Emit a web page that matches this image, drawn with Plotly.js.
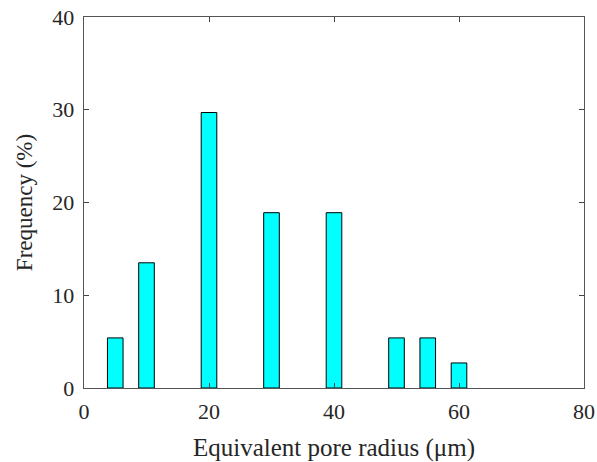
<!DOCTYPE html>
<html><head><meta charset="utf-8">
<script src="https://cdn.plot.ly/plotly-3.0.1.min.js"></script>
<style>body{margin:0;background:#fff}#c{width:597px;height:462px}</style>
</head><body><div id="c"></div>
<script>
const radius = [5, 10, 20, 30, 40, 50, 55, 60];
const frequency = [5.4, 13.5, 29.7, 18.9, 18.9, 5.4, 5.4, 2.7];
const xTicks = [0, 20, 40, 60, 80];
const yTicks = [0, 10, 20, 30, 40];

const font = {family: 'Liberation Serif, Times New Roman, serif', color: '#262626'};
Plotly.newPlot('c', [{
  type: 'bar', x: radius, y: frequency, width: 2.5,
  marker: {color: '#00ffff', line: {color: '#000', width: 1}}
}], {
  width: 597, height: 462,
  margin: {l: 84, r: 13, t: 17, b: 74},
  paper_bgcolor: '#fff', plot_bgcolor: '#fff',
  font: Object.assign({size: 22}, font),
  showlegend: false,
  xaxis: {
    range: [0, 80], tickvals: xTicks, ticktext: xTicks.map(String),
    ticks: 'inside', ticklen: 5, tickcolor: '#444', mirror: 'ticks',
    showline: true, linecolor: '#555', linewidth: 1.3, showgrid: false, zeroline: false,
    tickfont: {size: 22}, ticklabelstandoff: 3,
    title: {text: 'Equivalent pore radius (μm)', font: {size: 25}, standoff: 15}
  },
  yaxis: {
    range: [0, 40], tickvals: yTicks, ticktext: yTicks.map(String),
    ticks: 'inside', ticklen: 5, tickcolor: '#444', mirror: 'ticks',
    showline: true, linecolor: '#555', linewidth: 1.3, showgrid: false, zeroline: false,
    tickfont: {size: 22}, ticklabelstandoff: 4,
    title: {text: 'Frequency (%)', font: {size: 23}, standoff: 13}
  }
}, {displayModeBar: false, staticPlot: true});
</script></body></html>
